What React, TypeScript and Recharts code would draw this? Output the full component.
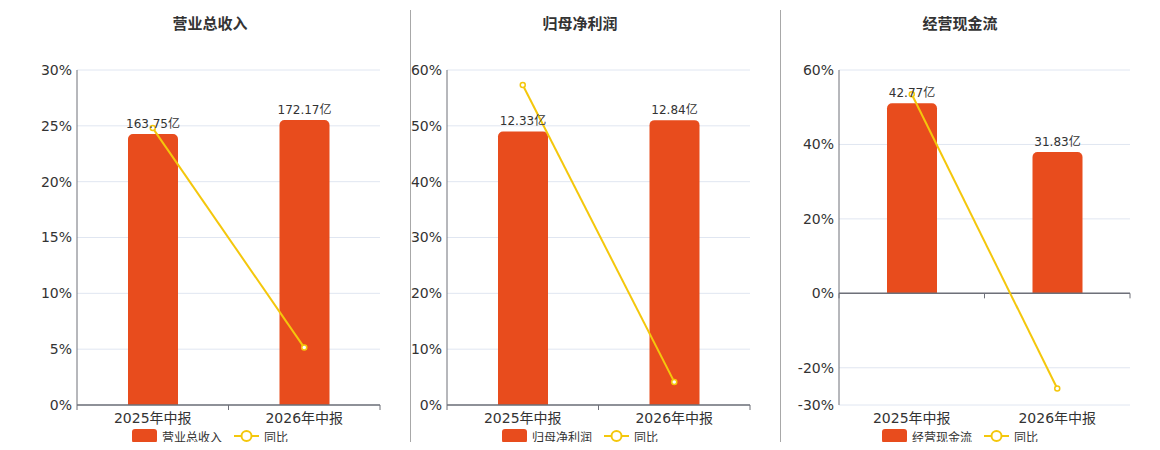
import React from "react";
import {
  ComposedChart,
  Bar,
  Line,
  XAxis,
  YAxis,
  CartesianGrid,
  LabelList,
  ReferenceLine,
} from "recharts";

const categories = ["2025年中报", "2026年中报"];

const revenue = [163.75, 172.17];
const revenueYoy = [24.8, 5.14];

const profit = [12.33, 12.84];
const profitYoy = [57.3, 4.14];

const cashflow = [42.77, 31.83];
const cashflowYoy = [53.5, -25.58];

const BAR_COLOR = "#e84c1d";
const LINE_COLOR = "#f4c70c";
const AXIS_COLOR = "#6e7079";
const FONT = "'DejaVu Sans', 'Noto Sans CJK SC', sans-serif";

type PanelProps = {
  title: string;
  name: string;
  values: number[];
  yoy: number[];
  pctDomain: [number, number];
  pctTicks: number[];
  barDomain: [number, number];
  left: number;
  width: number;
  axisWidth: number;
  center: number;
};

// bottom axis line drawn at zero, with ticks on category boundaries
const ZeroAxis = (props: any) => {
  const { x1, x2, y1 } = props;
  const n = categories.length;
  const step = (x2 - x1) / n;
  return (
    <g>
      <line x1={x1} x2={x2} y1={y1} y2={y1} stroke={AXIS_COLOR} strokeWidth={1.5} />
      {Array.from({ length: n + 1 }, (_, i) => (
        <line
          key={i}
          x1={x1 + i * step}
          x2={x1 + i * step}
          y1={y1}
          y2={y1 + 5}
          stroke={AXIS_COLOR}
        />
      ))}
    </g>
  );
};

const Panel = ({
  title,
  name,
  values,
  yoy,
  pctDomain,
  pctTicks,
  barDomain,
  left,
  width,
  axisWidth,
  center,
}: PanelProps) => {
  const data = categories.map((c, i) => ({
    name: c,
    value: values[i],
    yoy: yoy[i],
  }));
  return (
    <>
      <div
        style={{
          position: "absolute",
          left: center - 100,
          width: 200,
          top: 12,
          textAlign: "center",
          fontSize: 15,
          fontWeight: "bold",
          color: "#333",
        }}
      >
        {title}
      </div>
      <div style={{ position: "absolute", left, top: 0 }}>
        <ComposedChart
          width={width}
          height={450}
          data={data}
          margin={{ top: 70, right: 20, bottom: 0, left: 0 }}
        >
          <CartesianGrid vertical={false} stroke="#e0e6f1" />
          <XAxis
            dataKey="name"
            height={45}
            axisLine={false}
            tickLine={false}
            tick={{ fill: "#333", fontSize: 14 }}
            interval={0}
          />
          <YAxis
            width={axisWidth}
            domain={pctDomain}
            ticks={pctTicks}
            tickLine={false}
            tickSize={3}
            tickMargin={2}
            axisLine={{ stroke: AXIS_COLOR }}
            tick={{ fill: "#333", fontSize: 14 }}
            tickFormatter={(v) => `${v}%`}
            allowDataOverflow
          />
          <YAxis yAxisId="bar" hide domain={barDomain} allowDataOverflow />
          <ReferenceLine y={0} shape={ZeroAxis} />
          <Bar
            yAxisId="bar"
            dataKey="value"
            fill={BAR_COLOR}
            barSize={50}
            radius={[5, 5, 0, 0]}
            isAnimationActive={false}
          >
            <LabelList
              dataKey="value"
              position="top"
              offset={6}
              fill="#333"
              fontSize={12}
              formatter={(v: any) => `${v}亿`}
            />
          </Bar>
          <Line
            dataKey="yoy"
            stroke={LINE_COLOR}
            strokeWidth={2}
            dot={{ r: 2.5, fill: "#fff", stroke: LINE_COLOR, strokeWidth: 1.5 }}
            activeDot={false}
            isAnimationActive={false}
          />
        </ComposedChart>
      </div>
      <div
        style={{
          position: "absolute",
          left: center - 120,
          width: 240,
          top: 428,
          display: "flex",
          justifyContent: "center",
          alignItems: "center",
          fontSize: 12,
          color: "#333",
          height: 16,
        }}
      >
        <span
          style={{
            display: "inline-block",
            width: 25,
            height: 14,
            borderRadius: 3,
            background: BAR_COLOR,
            marginRight: 5,
          }}
        />
        <span style={{ marginRight: 12 }}>{name}</span>
        <svg width={25} height={14} style={{ marginRight: 5 }}>
          <line x1={0} x2={25} y1={7} y2={7} stroke={LINE_COLOR} strokeWidth={2} />
          <circle cx={12.5} cy={7} r={5} fill="#fff" stroke={LINE_COLOR} strokeWidth={2} />
        </svg>
        <span>同比</span>
      </div>
    </>
  );
};

export default function App() {
  return (
    <div
      style={{
        position: "relative",
        width: 1160,
        height: 450,
        margin: -8,
        fontFamily: FONT,
        background: "#fff",
        overflow: "hidden",
      }}
    >
      <Panel
        title="营业总收入"
        name="营业总收入"
        values={revenue}
        yoy={revenueYoy}
        pctDomain={[0, 30]}
        pctTicks={[0, 5, 10, 15, 20, 25, 30]}
        barDomain={[0, 202.4]}
        left={0}
        width={400}
        axisWidth={77}
        center={210}
      />
      <Panel
        title="归母净利润"
        name="归母净利润"
        values={profit}
        yoy={profitYoy}
        pctDomain={[0, 60]}
        pctTicks={[0, 10, 20, 30, 40, 50, 60]}
        barDomain={[0, 15.1]}
        left={400}
        width={370}
        axisWidth={47}
        center={580}
      />
      <Panel
        title="经营现金流"
        name="经营现金流"
        values={cashflow}
        yoy={cashflowYoy}
        pctDomain={[-30, 60]}
        pctTicks={[-30, -20, 0, 20, 40, 60]}
        barDomain={[-25.14, 50.28]}
        left={780}
        width={370}
        axisWidth={59}
        center={960}
      />
      <div style={{ position: "absolute", left: 410, top: 10, width: 1, height: 433, background: "#a8a8a8" }} />
      <div style={{ position: "absolute", left: 780, top: 10, width: 1, height: 433, background: "#a8a8a8" }} />
    </div>
  );
}
